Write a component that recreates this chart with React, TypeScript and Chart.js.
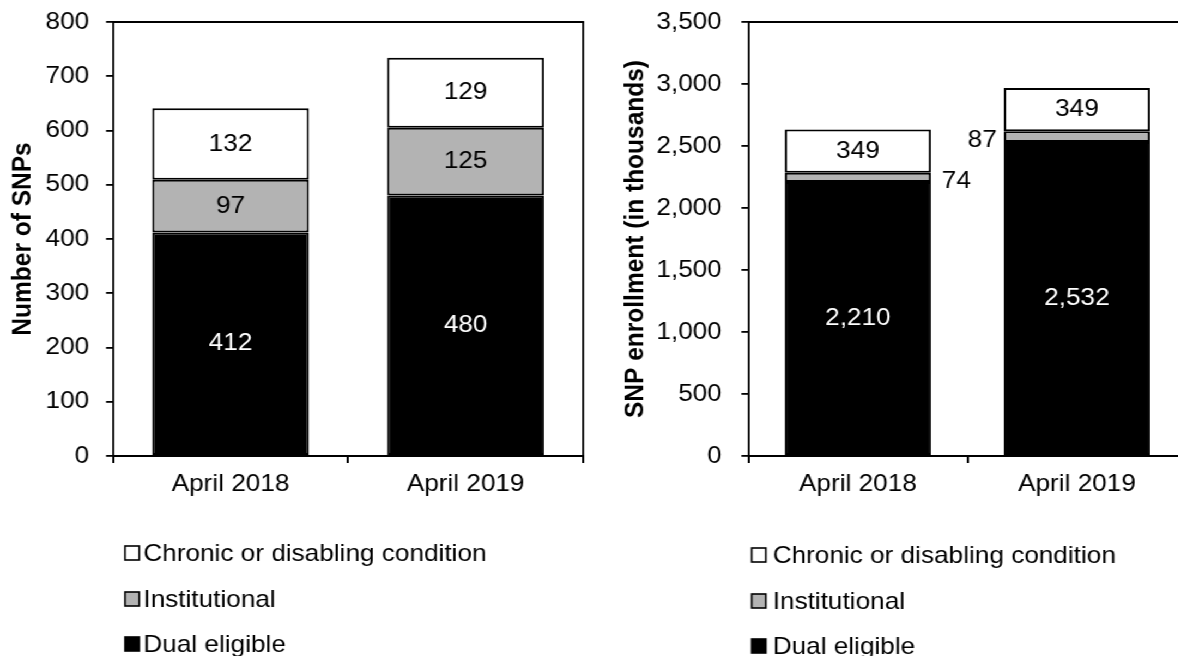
import { useEffect, useRef } from "react";
import { Chart, registerables } from "chart.js";

Chart.register(...registerables);

const FONT = '"Liberation Sans", Arial, Helvetica, sans-serif';
const TEXT_SIZE = 24;
const TITLE_SIZE = 24.5;
// Both panels are laid out in a slightly narrower space and widened horizontally.
const STRETCH = 1.09;
const PAGE_W = 1178;
const PAGE_H = 656;

const categories = ["April 2018", "April 2019"];
const seriesNames = ["Dual eligible", "Institutional", "Chronic or disabling condition"];
const seriesColors = ["#000000", "#b3b3b3", "#ffffff"];
const labelColors = ["#ffffff", "#000000", "#000000"];

// Number of SNPs
const snpDual = [412, 480];
const snpInstitutional = [97, 125];
const snpChronic = [132, 129];
const snpTicks = [0, 100, 200, 300, 400, 500, 600, 700, 800];

// SNP enrollment, in thousands
const enrollDual = [2210, 2532];
const enrollInstitutional = [74, 87];
const enrollChronic = [349, 349];
const enrollTicks = [0, 500, 1000, 1500, 2000, 2500, 3000, 3500];

type Side = "left" | "right";

type Panel = {
  left: number;
  width: number;
  axisWidth: number;
  padRight: number;
  titlePad: number;
  tickPad: number;
  yTitle: string;
  ticks: number[];
  series: number[][];
  format: (v: number) => string;
  legendBoxX: number;
  legendTextX: number;
  legendRows: number[];
  outside?: { dataset: number; sides: Side[] };
};

const fmtPlain = (v: number) => String(v);
const fmtComma = (v: number) => Number(v).toLocaleString("en-US");

const framePlugin = {
  id: "frame",
  afterDraw(chart: any) {
    const { ctx, chartArea: a } = chart;
    ctx.save();
    ctx.strokeStyle = "#000";
    ctx.lineWidth = 2;
    ctx.beginPath();
    ctx.moveTo(a.left, a.top);
    ctx.lineTo(a.right + 0.9, a.top);
    ctx.stroke();
    ctx.lineWidth = 1.8;
    ctx.beginPath();
    ctx.moveTo(a.right, a.top);
    ctx.lineTo(a.right, a.bottom);
    ctx.stroke();
    ctx.restore();
  },
};

const makeLabelPlugin = (panel: Panel) => ({
  id: "segmentLabels",
  afterDatasetsDraw(chart: any) {
    const { ctx } = chart;
    ctx.save();
    ctx.font = `${TEXT_SIZE}px ${FONT}`;
    ctx.textBaseline = "middle";
    chart.data.datasets.forEach((ds: any, di: number) => {
      const meta = chart.getDatasetMeta(di);
      meta.data.forEach((bar: any, i: number) => {
        const { x, y, base, width } = bar.getProps(["x", "y", "base", "width"], true);
        const cy = (y + base) / 2;
        const text = panel.format(ds.data[i]);
        if (panel.outside && panel.outside.dataset === di) {
          const side = panel.outside.sides[i];
          ctx.fillStyle = "#000";
          if (side === "right") {
            ctx.textAlign = "left";
            ctx.fillText(text, x + width / 2 + 10, cy + 4);
          } else {
            ctx.textAlign = "right";
            ctx.fillText(text, x - width / 2 - 6.5, cy + 4);
          }
        } else {
          ctx.fillStyle = labelColors[di];
          ctx.textAlign = "center";
          ctx.fillText(text, x, cy);
        }
      });
    });
    ctx.restore();
  },
});

const makeLegendPlugin = (panel: Panel) => ({
  id: "stackLegend",
  afterDraw(chart: any) {
    const { ctx } = chart;
    const datasets = chart.data.datasets;
    ctx.save();
    ctx.font = `${TEXT_SIZE}px ${FONT}`;
    ctx.textBaseline = "middle";
    ctx.textAlign = "left";
    const boxW = 13;
    const boxH = 14;
    for (let k = 0; k < datasets.length; k++) {
      const ds = datasets[datasets.length - 1 - k];
      const cy = panel.legendRows[k];
      ctx.fillStyle = ds.backgroundColor;
      ctx.fillRect(panel.legendBoxX, cy - boxH / 2, boxW, boxH);
      ctx.strokeStyle = "#000";
      ctx.lineWidth = 1.6;
      ctx.strokeRect(panel.legendBoxX, cy - boxH / 2, boxW, boxH);
      ctx.fillStyle = "#000";
      ctx.fillText(ds.label, panel.legendTextX, cy + 1);
    }
    ctx.restore();
  },
});

const panels: Panel[] = [
  {
    left: 0,
    width: 541,
    axisWidth: 103.7,
    padRight: 6,
    titlePad: 6.2,
    tickPad: 15.4,
    yTitle: "Number of SNPs",
    ticks: snpTicks,
    series: [snpDual, snpInstitutional, snpChronic],
    format: fmtPlain,
    legendBoxX: 114.7,
    legendTextX: 131.5,
    legendRows: [553, 599, 644],
  },
  {
    left: 541,
    width: 560,
    axisWidth: 145.6,
    padRight: 12.5,
    titlePad: 27.6,
    tickPad: 18,
    yTitle: "SNP enrollment (in thousands)",
    ticks: enrollTicks,
    series: [enrollDual, enrollInstitutional, enrollChronic],
    format: fmtComma,
    legendBoxX: 148.6,
    legendTextX: 167.9,
    legendRows: [555, 601, 646],
    outside: { dataset: 1, sides: ["right", "left"] },
  },
];

function StackedPanel({ panel }: { panel: Panel }) {
  const ref = useRef<HTMLCanvasElement | null>(null);

  useEffect(() => {
    const canvas = ref.current;
    if (!canvas) return;
    const chart = new Chart(canvas, {
      type: "bar",
      data: {
        labels: categories,
        datasets: panel.series.map((d, i) => ({
          label: seriesNames[i],
          data: d,
          backgroundColor: seriesColors[i],
          borderColor: "#000",
          borderWidth: 2,
          borderSkipped: false,
          categoryPercentage: 1,
          barPercentage: 0.667,
        })),
      },
      options: {
        responsive: false,
        animation: false,
        events: [],
        layout: { padding: { left: 0, right: panel.padRight, top: 22, bottom: 0 } },
        plugins: { legend: { display: false }, tooltip: { enabled: false } },
        scales: {
          x: {
            stacked: true,
            offset: true,
            grid: {
              display: true,
              drawOnChartArea: false,
              drawTicks: true,
              tickLength: 7,
              color: "#000",
              lineWidth: 2,
              offset: true,
            },
            border: { display: true, color: "#000", width: 2 },
            ticks: { color: "#000", font: { family: FONT, size: TEXT_SIZE }, padding: 7, maxRotation: 0 },
            afterFit: (s: any) => {
              s.height = 200;
              s.paddingLeft = 0;
              s.paddingRight = 0;
            },
          },
          y: {
            stacked: true,
            min: panel.ticks[0],
            max: panel.ticks[panel.ticks.length - 1],
            grid: {
              display: true,
              drawOnChartArea: false,
              drawTicks: true,
              tickLength: 6.4,
              color: "#000",
              lineWidth: 1.8,
            },
            border: { display: true, color: "#000", width: 1.8 },
            ticks: {
              color: "#000",
              font: { family: FONT, size: TEXT_SIZE },
              padding: panel.tickPad,
              callback: (v: any) => panel.format(Number(v)),
            },
            afterBuildTicks: (s: any) => {
              s.ticks = panel.ticks.map((v) => ({ value: v }));
            },
            afterFit: (s: any) => {
              s.width = panel.axisWidth;
              s.paddingTop = 0;
              s.paddingBottom = 0;
            },
            title: {
              display: true,
              text: panel.yTitle,
              color: "#000",
              font: { family: FONT, size: TITLE_SIZE, weight: "bold" },
              padding: { top: panel.titlePad, bottom: 0 },
            },
          },
        },
      } as any,
      plugins: [framePlugin, makeLabelPlugin(panel), makeLegendPlugin(panel)],
    });
    return () => chart.destroy();
  }, [panel]);

  return (
    <canvas
      ref={ref}
      width={panel.width}
      height={PAGE_H}
      style={{
        position: "absolute",
        left: panel.left,
        top: 0,
        width: panel.width,
        height: PAGE_H,
      }}
    />
  );
}

export default function App() {
  return (
    <div
      style={{
        position: "fixed",
        left: 0,
        top: 0,
        width: PAGE_W,
        height: PAGE_H,
        overflow: "hidden",
        background: "#fff",
      }}
    >
      <div
        style={{
          position: "absolute",
          left: 0,
          top: 0,
          width: PAGE_W / STRETCH,
          height: PAGE_H,
          transform: `scaleX(${STRETCH})`,
          transformOrigin: "0 0",
        }}
      >
        {panels.map((p, i) => (
          <StackedPanel key={i} panel={p} />
        ))}
      </div>
    </div>
  );
}
